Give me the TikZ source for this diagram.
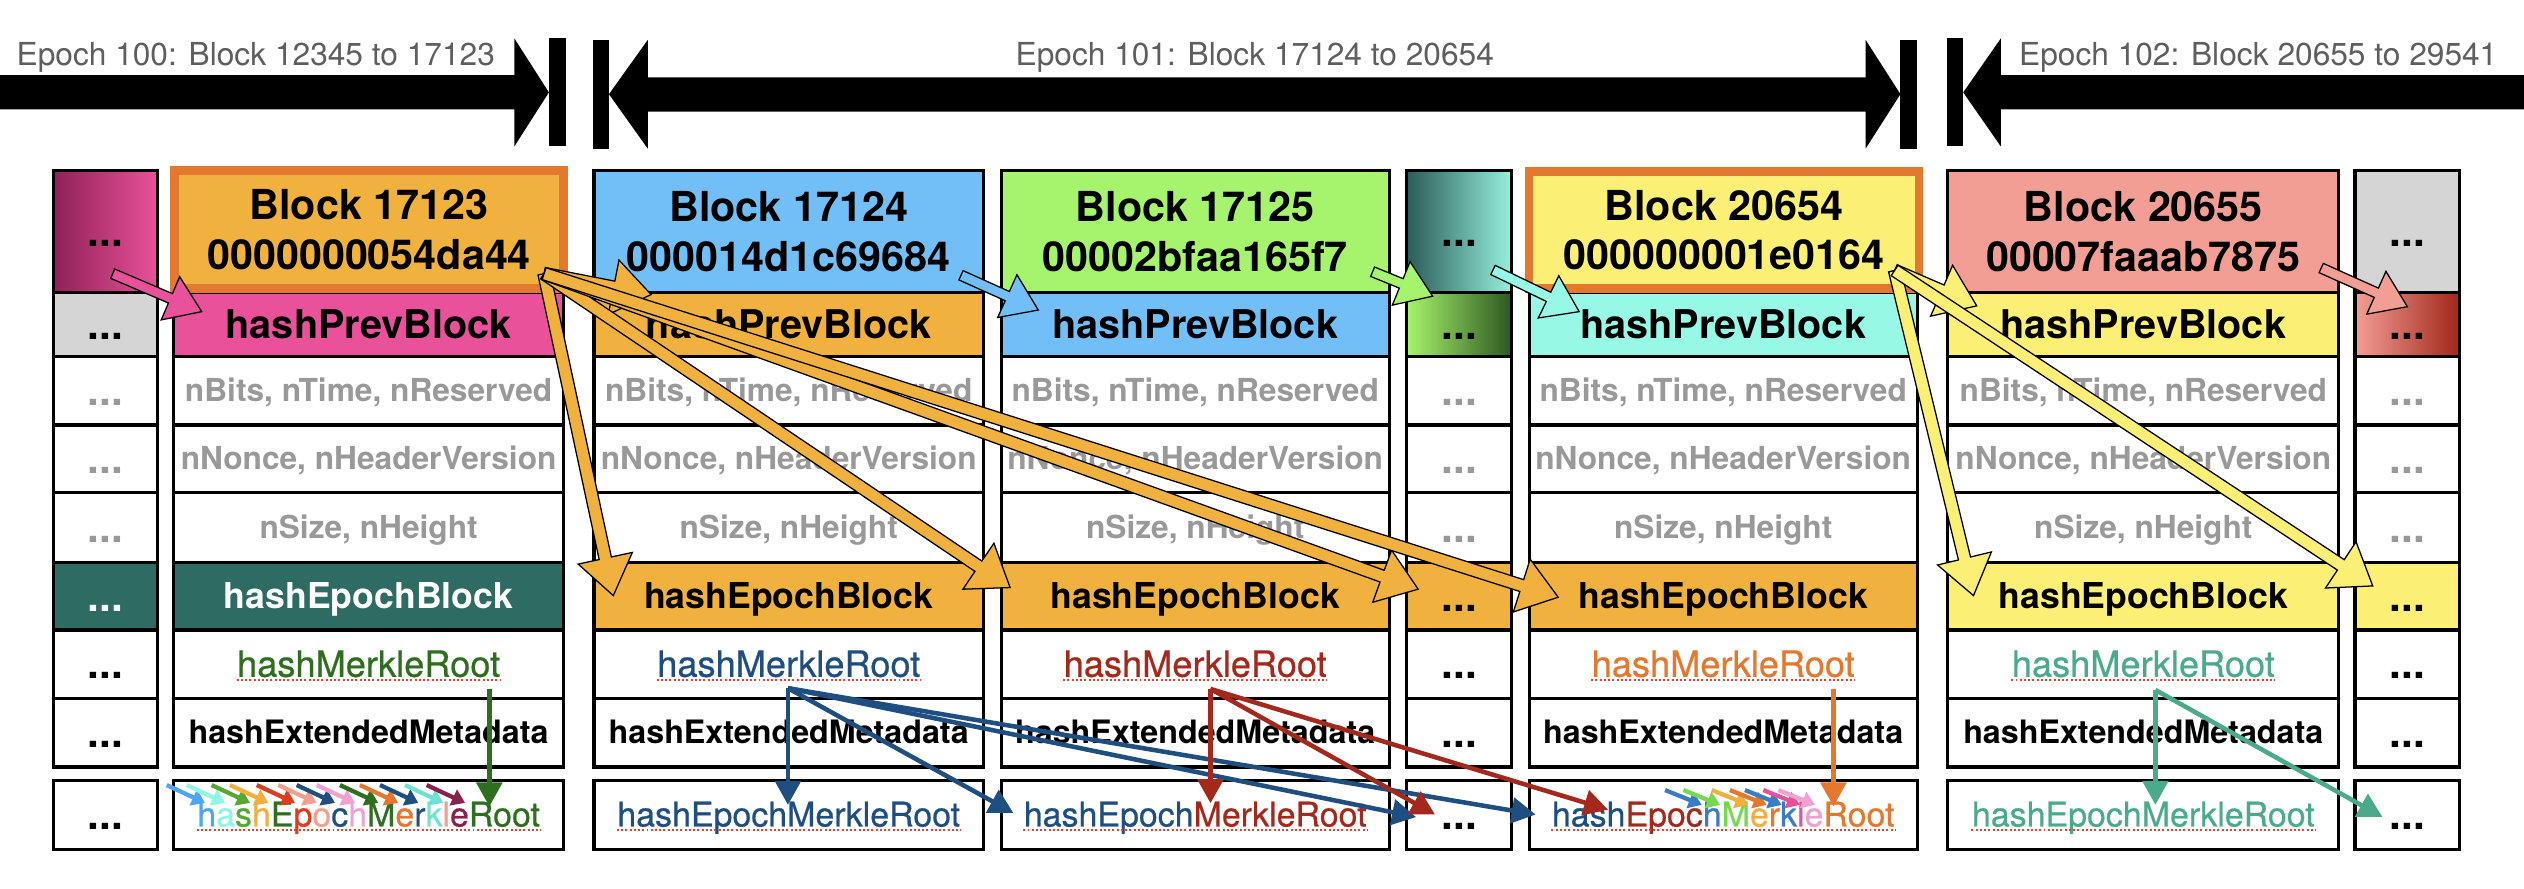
\documentclass[tikz,border=0pt]{standalone}
\usepackage{fontspec}
\setmainfont{TeX Gyre Heros}
\newfontfamily\medfont[FakeBold=0.6]{TeX Gyre Heros}
\usetikzlibrary{calc,arrows.meta}

% fills
\definecolor{orF}{HTML}{F1B13E}
\definecolor{orB}{HTML}{E3782F}
\definecolor{pinkF}{HTML}{E9529A}
\definecolor{maroonF}{HTML}{8E2157}
\definecolor{grayF}{HTML}{D5D5D5}
\definecolor{tealD}{HTML}{2E6B63}
\definecolor{blueL}{HTML}{72BFF7}
\definecolor{greenL}{HTML}{A6F46D}
\definecolor{greenD}{HTML}{2E5720}
\definecolor{aquaF}{HTML}{98F8E6}
\definecolor{tealG}{HTML}{2B5C58}
\definecolor{aquaG}{HTML}{96F0DD}
\definecolor{yellowF}{HTML}{FBEF76}
\definecolor{salmonF}{HTML}{F29E95}
\definecolor{redG}{HTML}{A2261A}
\definecolor{txtgray}{HTML}{999999}
\definecolor{bannergray}{HTML}{5E5E5E}
\definecolor{squigred}{HTML}{E8412F}
% text and link colours
\definecolor{tGreen}{HTML}{2E6F1F}
\definecolor{tNavy}{HTML}{1F4E80}
\definecolor{tRed}{HTML}{A4281B}
\definecolor{tOrange}{HTML}{E4782F}
\definecolor{tTeal}{HTML}{4BAA8B}
\definecolor{mLightBlue}{HTML}{4DA6F5}
\definecolor{mAqua}{HTML}{8FF5E5}
\definecolor{mGreen}{HTML}{55A830}
\definecolor{mOrangeY}{HTML}{F2AE3F}
\definecolor{mRed}{HTML}{DE3B1F}
\definecolor{mSalmon}{HTML}{F1A090}
\definecolor{mPink}{HTML}{F2A0D2}
\definecolor{mTurq}{HTML}{6FE3D2}
\definecolor{mMaroon}{HTML}{8B1F4E}
\definecolor{mBlue}{HTML}{3B7CC4}
\definecolor{mLime}{HTML}{74D94E}
\definecolor{mMagenta}{HTML}{E8509A}

% one table cell: name, x1, x2, y1, y2, options, text
\newcommand{\cell}[7]{\node[cellbox,#6,minimum width={(#3-#2)*0.02cm},minimum height={(#5-#4)*0.02cm}] (#1) at ({(#2+#3)/2},{(#4+#5)/2}) {#7};}
% the three grey header-field rows of a block
\newcommand{\midrows}[3]{%
  \cell{#1n}{#2}{#3}{221.6}{264}{graylab}{nBits, nTime, nReserved}
  \cell{#1v}{#2}{#3}{264}{306}{graylab}{nNonce, nHeaderVersion}
  \cell{#1s}{#2}{#3}{306}{349.7}{graylab}{nSize, nHeight}}
\newcommand{\dotrows}[3]{%
  \cell{#1n}{#2}{#3}{221.6}{264}{graydotlab}{...}
  \cell{#1v}{#2}{#3}{264}{306}{graydotlab}{...}
  \cell{#1s}{#2}{#3}{306}{349.7}{graydotlab}{...}}
% underlined label placed on a cell
\newcommand{\ulabel}[4]{\node[#3] (#1) at (#2) {#4};
  \draw[squig] ([yshift=-1.2pt]#1.base west) -- ([yshift=-1.2pt]#1.base east);}
% outlined block arrow: fill, from, to, half shaft, half head, head length (pt)
\newcommand{\barrow}[6]{%
  \draw[draw=black, line width=0.45pt, fill=#1, line join=miter]
    let \p1=(#2), \p2=(#3), \n1={atan2(\y2-\y1,\x2-\x1)}, \n2={veclen(\x2-\x1,\y2-\y1)} in
    ($(\p1)+(\n1+90:#4pt)$) -- ($(\p1)+(\n1+90:#4pt)+(\n1:\n2-#6pt)$)
    -- ($(\p1)+(\n1+90:#5pt)+(\n1:\n2-#6pt)$) -- (\p2)
    -- ($(\p1)+(\n1-90:#5pt)+(\n1:\n2-#6pt)$) -- ($(\p1)+(\n1-90:#4pt)+(\n1:\n2-#6pt)$)
    -- ($(\p1)+(\n1-90:#4pt)$) -- cycle;}

\begin{document}
\begin{tikzpicture}[x=0.02cm, y=-0.02cm,
  fb/.style={font=\fontsize{#1}{#1}\selectfont\bfseries, text height={0.8*#1pt}, text depth={0.1*#1pt}},
  fr/.style={font=\medfont\fontsize{#1}{#1}\selectfont, text height={0.8*#1pt}, text depth={0.1*#1pt}},
  cellbox/.style={draw=black, line width=1.1pt, inner sep=0pt, outer sep=0pt},
  hdr/.style={font=\fontsize{14.6}{17.6}\selectfont\bfseries, align=center},
  hdrframe/.style={draw=orB, line width=3.1pt, inner sep=0pt, outer sep=0pt, hdr},
  graylab/.style={fb=11.2, text=txtgray},
  dotlab/.style={fb=15},
  graydotlab/.style={fb=15, text=txtgray},
  prevlab/.style={fb=14},
  epochlab/.style={fb=12.6},
  extlab/.style={fb=11.4},
  merklab/.style={fr=12.8, inner sep=0pt},
  emrlab/.style={fr=12, inner sep=0pt},
  squig/.style={draw=squigred, line width=0.7pt, dash pattern=on 0.7pt off 0.8pt},
  banner/.style={font=\fontsize{11.2}{13}\selectfont, text=bannergray, inner sep=0pt},
  linkarrow/.style={line width=1.6pt, -{Triangle[length=8.5pt,width=9pt]}},
  tinyarrow/.style={line width=1.5pt, -{Triangle[length=4.6pt,width=6pt]}},
]
\useasboundingbox (0,0) rectangle (1568,552);

% ---- epoch banner ----
\fill (0,46.6) -- (319.5,46.6) -- (319.5,23.8) -- (341,57.4) -- (319.5,91) -- (319.5,68) -- (0,68) -- cycle;
\fill (341,23.8) rectangle (351.6,91);
\fill (368.5,24.8) rectangle (378.3,92.3);
\fill (378.3,58.5) -- (402.4,24.8) -- (402.4,48) -- (1159,48) -- (1159,24.8) -- (1180.6,58.5)
  -- (1159,92.3) -- (1159,69.4) -- (402.4,69.4) -- (402.4,92.3) -- cycle;
\fill (1180.6,24.8) rectangle (1191,92.3);
\fill (1209.6,23.8) rectangle (1219.6,91);
\fill (1219.6,57.4) -- (1243,23.8) -- (1243,46.6) -- (1568,46.6) -- (1568,68) -- (1243,68) -- (1243,91) -- cycle;
\node[banner, anchor=base west] (ep100) at (10,40.4) {Epoch 100: Block 12345 to 17123};
\node[banner, anchor=base] (ep101) at (779.5,40.4) {Epoch 101: Block 17124 to 20654};
\node[banner, anchor=base west] (ep102) at (1254,40.4) {Epoch 102: Block 20655 to 29541};

% ---- column before block 17123 ----
\cell{c0h}{33}{98}{106}{181.6}{left color=maroonF, right color=pinkF, dotlab}{...}
\cell{c0p}{33}{98}{181.6}{221.6}{fill=grayF, dotlab}{...}
\dotrows{c0}{33}{98}
\cell{c0e}{33}{98}{349.7}{391.4}{fill=tealD, dotlab, text=white}{...}
\cell{c0m}{33}{98}{391.4}{433.7}{dotlab}{...}
\cell{c0x}{33}{98}{433.7}{476.5}{dotlab}{...}
\cell{c0b}{33}{98}{484.6}{527.5}{dotlab}{...}

% ---- block 17123 ----
\cell{B1p}{108}{350}{181.6}{221.6}{fill=pinkF, prevlab}{hashPrevBlock}
\midrows{B1}{108}{350}
\cell{B1e}{108}{350}{349.7}{391.4}{fill=tealD, epochlab, text=white}{hashEpochBlock}
\cell{B1m}{108}{350}{391.4}{433.7}{}{}
\cell{B1x}{108}{350}{433.7}{476.5}{extlab}{hashExtendedMetadata}
\cell{B1b}{108}{350}{484.6}{527.5}{}{}
\node[hdrframe, fill=orF, minimum width={(350.2-108.4)*0.02cm}, minimum height={(179.4-105.8)*0.02cm}]
  (B1h) at ({(108.4+350.2)/2},{(105.8+179.4)/2}) {Block 17123\\0000000054da44};
\ulabel{B1mt}{B1m}{merklab, text=tGreen}{hashMerkleRoot}
\ulabel{B1bt}{B1b}{emrlab}{\textcolor{mLightBlue}{h}\textcolor{mAqua}{a}\textcolor{mGreen}{s}\textcolor{mOrangeY}{h}\textcolor{tGreen}{E}\textcolor{mRed}{p}\textcolor{mSalmon}{o}\textcolor{tNavy}{c}\textcolor{mPink}{h}\textcolor{tGreen}{M}\textcolor{tOrange}{e}\textcolor{tNavy}{r}\textcolor{mTurq}{k}\textcolor{mSalmon}{l}\textcolor{mMaroon}{e}\textcolor{tGreen}{Root}}

% ---- block 17124 ----
\cell{B2h}{369}{611}{106}{181.6}{fill=blueL, hdr}{Block 17124\\000014d1c69684}
\cell{B2p}{369}{611}{181.6}{221.6}{fill=orF, prevlab}{hashPrevBlock}
\midrows{B2}{369}{611}
\cell{B2e}{369}{611}{349.7}{391.4}{fill=orF, epochlab}{hashEpochBlock}
\cell{B2m}{369}{611}{391.4}{433.7}{}{}
\cell{B2x}{369}{611}{433.7}{476.5}{extlab}{hashExtendedMetadata}
\cell{B2b}{369}{611}{484.6}{527.5}{}{}
\ulabel{B2mt}{B2m}{merklab, text=tNavy}{hashMerkleRoot}
\ulabel{B2bt}{B2b}{emrlab, text=tNavy}{hashEpochMerkleRoot}

% ---- block 17125 ----
\cell{B3h}{622}{863}{106}{181.6}{fill=greenL, hdr}{Block 17125\\00002bfaa165f7}
\cell{B3p}{622}{863}{181.6}{221.6}{fill=blueL, prevlab}{hashPrevBlock}
\midrows{B3}{622}{863}
\cell{B3e}{622}{863}{349.7}{391.4}{fill=orF, epochlab}{hashEpochBlock}
\cell{B3m}{622}{863}{391.4}{433.7}{}{}
\cell{B3x}{622}{863}{433.7}{476.5}{extlab}{hashExtendedMetadata}
\cell{B3b}{622}{863}{484.6}{527.5}{}{}
\ulabel{B3mt}{B3m}{merklab, text=tRed}{hashMerkleRoot}
\ulabel{B3bt}{B3b}{emrlab}{\textcolor{tNavy}{hashEpoch}\textcolor{tRed}{MerkleRoot}}

% ---- column between 17125 and 20654 ----
\cell{c4h}{874}{939}{106}{181.6}{left color=tealG, right color=aquaG, dotlab}{...}
\cell{c4p}{874}{939}{181.6}{221.6}{left color=greenL, right color=greenD, dotlab}{...}
\dotrows{c4}{874}{939}
\cell{c4e}{874}{939}{349.7}{391.4}{fill=orF, dotlab}{...}
\cell{c4m}{874}{939}{391.4}{433.7}{dotlab}{...}
\cell{c4x}{874}{939}{433.7}{476.5}{dotlab}{...}
\cell{c4b}{874}{939}{484.6}{527.5}{dotlab}{...}

% ---- block 20654 ----
\cell{B5p}{950}{1191}{181.6}{221.6}{fill=aquaF, prevlab}{hashPrevBlock}
\midrows{B5}{950}{1191}
\cell{B5e}{950}{1191}{349.7}{391.4}{fill=orF, epochlab}{hashEpochBlock}
\cell{B5m}{950}{1191}{391.4}{433.7}{}{}
\cell{B5x}{950}{1191}{433.7}{476.5}{extlab}{hashExtendedMetadata}
\cell{B5b}{950}{1191}{484.6}{527.5}{}{}
\node[hdrframe, fill=yellowF, minimum width={(1192.2-949.8)*0.02cm}, minimum height={(179.4-106.4)*0.02cm}]
  (B5h) at ({(949.8+1192.2)/2},{(106.4+179.4)/2}) {Block 20654\\000000001e0164};
\ulabel{B5mt}{B5m}{merklab, text=tOrange}{hashMerkleRoot}
\ulabel{B5bt}{B5b}{emrlab}{\textcolor{tNavy}{hash}\textcolor{tRed}{Epoc}\textcolor{mBlue}{h}\textcolor{mLime}{M}\textcolor{mOrangeY}{e}\textcolor{tOrange}{r}\textcolor{mBlue}{k}\textcolor{mMagenta}{l}\textcolor{mPink}{e}\textcolor{tOrange}{Root}}

% ---- block 20655 ----
\cell{B6h}{1210}{1453}{106}{181.6}{fill=salmonF, hdr}{Block 20655\\00007faaab7875}
\cell{B6p}{1210}{1453}{181.6}{221.6}{fill=yellowF, prevlab}{hashPrevBlock}
\midrows{B6}{1210}{1453}
\cell{B6e}{1210}{1453}{349.7}{391.4}{fill=yellowF, epochlab}{hashEpochBlock}
\cell{B6m}{1210}{1453}{391.4}{433.7}{}{}
\cell{B6x}{1210}{1453}{433.7}{476.5}{extlab}{hashExtendedMetadata}
\cell{B6b}{1210}{1453}{484.6}{527.5}{}{}
\ulabel{B6mt}{B6m}{merklab, text=tTeal}{hashMerkleRoot}
\ulabel{B6bt}{B6b}{emrlab, text=tTeal}{hashEpochMerkleRoot}

% ---- column after block 20655 ----
\cell{c7h}{1463}{1528}{106}{181.6}{fill=grayF, dotlab}{...}
\cell{c7p}{1463}{1528}{181.6}{221.6}{left color=salmonF, right color=redG, dotlab}{...}
\dotrows{c7}{1463}{1528}
\cell{c7e}{1463}{1528}{349.7}{391.4}{fill=yellowF, dotlab}{...}
\cell{c7m}{1463}{1528}{391.4}{433.7}{dotlab}{...}
\cell{c7x}{1463}{1528}{433.7}{476.5}{dotlab}{...}
\cell{c7b}{1463}{1528}{484.6}{527.5}{dotlab}{...}

% ---- link end points ----
\coordinate (B1src) at (338,170);
\coordinate (B5src) at (1177,168);
\coordinate (c0src) at (70,170);
\coordinate (B2src) at (597,171);
\coordinate (B3src) at (852.7,168.8);
\coordinate (c4src) at (927.5,167.7);
\coordinate (B6src) at (1442,166.5);
\coordinate (B1pin) at (125.3,193.6);
\coordinate (B2pin) at (404.5,183);
\coordinate (B3pin) at (645,192.6);
\coordinate (c4pin) at (890,184);
\coordinate (B5pin) at (981,193.6);
\coordinate (B6pin) at (1228,190);
\coordinate (c7pin) at (1495.5,190.5);
\coordinate (B2ein) at (381,370);
\coordinate (B3ein) at (627.5,365);
\coordinate (c4ein) at (881,366);
\coordinate (B5ein) at (968,371);
\coordinate (B6ein) at (1226,370);
\coordinate (c7ein) at (1474,364);
\coordinate (B1mo) at (304,428);
\coordinate (B2mo) at (489.5,427.5);
\coordinate (B3mo) at (752,428);
\coordinate (B5mo) at (1139,428);
\coordinate (B6mo) at (1339,428.6);
\coordinate (B1bin) at (304,501);
\coordinate (B2bin) at (489.5,500);
\coordinate (B3bin) at (629.5,505);
\coordinate (B3bin2) at (752,499);
\coordinate (c4bin) at (879.7,507.6);
\coordinate (c4bin2) at (891.5,506);
\coordinate (B5bin) at (954,506);
\coordinate (B5bin2) at (999,503);
\coordinate (B5bin3) at (1139,501);
\coordinate (B6bin) at (1339,500);
\coordinate (c7bin) at (1480,507.5);

% ---- merkle root links ----
\draw[linkarrow, tGreen] (B1mo) -- (B1bin);
\draw[linkarrow, tNavy] (B2mo) -- (B2bin);
\draw[linkarrow, tNavy] (B2mo) -- (B3bin);
\draw[linkarrow, tNavy] (B2mo) -- (c4bin);
\draw[linkarrow, tNavy] (B2mo) -- (B5bin);
\draw[linkarrow, tRed] (B3mo) -- (B3bin2);
\draw[linkarrow, tRed] (B3mo) -- (c4bin2);
\draw[linkarrow, tRed] (B3mo) -- (B5bin2);
\draw[linkarrow, tOrange] (B5mo) -- (B5bin3);
\draw[linkarrow, tTeal] (B6mo) -- (B6bin);
\draw[linkarrow, tTeal] (B6mo) -- (c7bin);

% ---- per-letter contributions ----
\foreach \sx/\c in {103.6/mLightBlue, 116/mAqua, 131.5/mGreen, 142.9/mOrangeY, 159.5/mRed,
  172.9/mSalmon, 184.3/tNavy, 196.7/mPink, 211.2/tGreen, 223.6/tOrange, 236.1/tNavy,
  251.6/mTurq, 265.1/mMaroon}
  \draw[tinyarrow, \c] (\sx,487.7) -- ++(23.8,11.1);
\foreach \sx/\c in {1034.4/mBlue, 1045.8/mLime, 1063.4/mOrangeY, 1074.7/tOrange,
  1084/mBlue, 1095.4/mMagenta, 1104.8/mPink}
  \draw[tinyarrow, \c] (\sx,490.8) -- ++(22.8,9.2);

% ---- block hash links ----
\barrow{pinkF}{c0src}{B1pin}{1.8}{8.3}{12}
\barrow{blueL}{B2src}{B3pin}{1.8}{8.3}{12}
\barrow{greenL}{B3src}{c4pin}{1.8}{8.3}{12}
\barrow{aquaF}{c4src}{B5pin}{1.8}{8.3}{12}
\barrow{salmonF}{B6src}{c7pin}{1.8}{8.3}{12}
\barrow{orF}{B1src}{B2pin}{2.2}{9.8}{13.5}
\barrow{orF}{B1src}{B2ein}{2.2}{9.8}{13.5}
\barrow{orF}{B1src}{B3ein}{2.2}{9.8}{13.5}
\barrow{orF}{B1src}{c4ein}{2.2}{9.8}{13.5}
\barrow{orF}{B1src}{B5ein}{2.2}{9.8}{13.5}
\barrow{yellowF}{B5src}{B6pin}{2.2}{9.8}{13.5}
\barrow{yellowF}{B5src}{B6ein}{2.2}{9.8}{13.5}
\barrow{yellowF}{B5src}{c7ein}{2.2}{9.8}{13.5}
\end{tikzpicture}
\end{document}
